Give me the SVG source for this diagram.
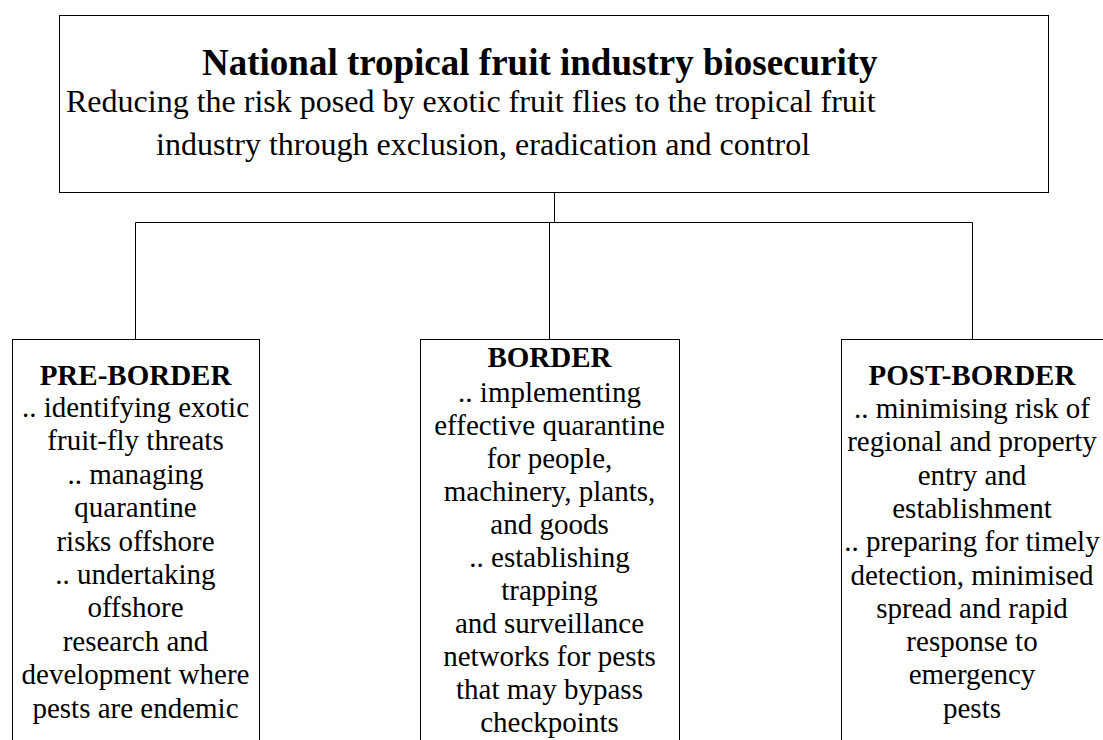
<svg xmlns="http://www.w3.org/2000/svg" width="1103" height="740" viewBox="0 0 1103 740">
<style>
.box{fill:#fff;stroke:#000;stroke-width:1}
.ln{fill:none;stroke:#000;stroke-width:1}
text{font-family:"Liberation Serif","Times New Roman",serif;fill:#000}
.b{font-weight:bold}
.c{text-anchor:middle;font-size:29px}
</style>
<rect width="1103" height="740" fill="#fff"/>
<g id="connectors">
<path class="ln" d="M554.5 193V222.5M135.5 222.5H972.5M135.5 222.5V339M549.5 222.5V339M972.5 222.5V339"/>
</g>
<g id="top">
<rect class="box" x="59.5" y="15.5" width="989" height="177"/>
<text class="b" x="202" y="75" font-size="37">National tropical fruit industry biosecurity</text>
<text x="66" y="112" font-size="32">Reducing the risk posed by exotic fruit flies to the tropical fruit</text>
<text x="156" y="155" font-size="32">industry through exclusion, eradication and control</text>
</g>
<g id="pre-border">
<rect class="box" x="12.5" y="339.5" width="247" height="420"/>
<text class="c b" x="135.5" y="385">PRE-BORDER</text>
<text class="c" x="135.5" y="417">.. identifying exotic</text>
<text class="c" x="135.5" y="450.4">fruit-fly threats</text>
<text class="c" x="135.5" y="483.8">.. managing</text>
<text class="c" x="135.5" y="517.2">quarantine</text>
<text class="c" x="135.5" y="550.6">risks offshore</text>
<text class="c" x="135.5" y="584">.. undertaking</text>
<text class="c" x="135.5" y="617.4">offshore</text>
<text class="c" x="135.5" y="650.8">research and</text>
<text class="c" x="135.5" y="684.2">development where</text>
<text class="c" x="135.5" y="717.6">pests are endemic</text>
</g>
<g id="border">
<rect class="box" x="420.5" y="339.5" width="259" height="420"/>
<text class="c b" x="549.5" y="367">BORDER</text>
<text class="c" x="549.5" y="401.5">.. implementing</text>
<text class="c" x="549.5" y="434.5">effective quarantine</text>
<text class="c" x="549.5" y="467.6">for people,</text>
<text class="c" x="549.5" y="500.6">machinery, plants,</text>
<text class="c" x="549.5" y="533.7">and goods</text>
<text class="c" x="549.5" y="566.7">.. establishing</text>
<text class="c" x="549.5" y="599.8">trapping</text>
<text class="c" x="549.5" y="632.8">and surveillance</text>
<text class="c" x="549.5" y="665.9">networks for pests</text>
<text class="c" x="549.5" y="698.9">that may bypass</text>
<text class="c" x="549.5" y="732">checkpoints</text>
</g>
<g id="post-border">
<rect class="box" x="841.5" y="339.5" width="263" height="420"/>
<text class="c b" x="972" y="385">POST-BORDER</text>
<text class="c" x="972" y="418">.. minimising risk of</text>
<text class="c" x="972" y="451.3">regional and property</text>
<text class="c" x="972" y="484.6">entry and</text>
<text class="c" x="972" y="517.9">establishment</text>
<text class="c" x="972" y="551.2">.. preparing for timely</text>
<text class="c" x="972" y="584.5">detection, minimised</text>
<text class="c" x="972" y="617.8">spread and rapid</text>
<text class="c" x="972" y="651.1">response to</text>
<text class="c" x="972" y="684.4">emergency</text>
<text class="c" x="972" y="717.7">pests</text>
</g>
</svg>
